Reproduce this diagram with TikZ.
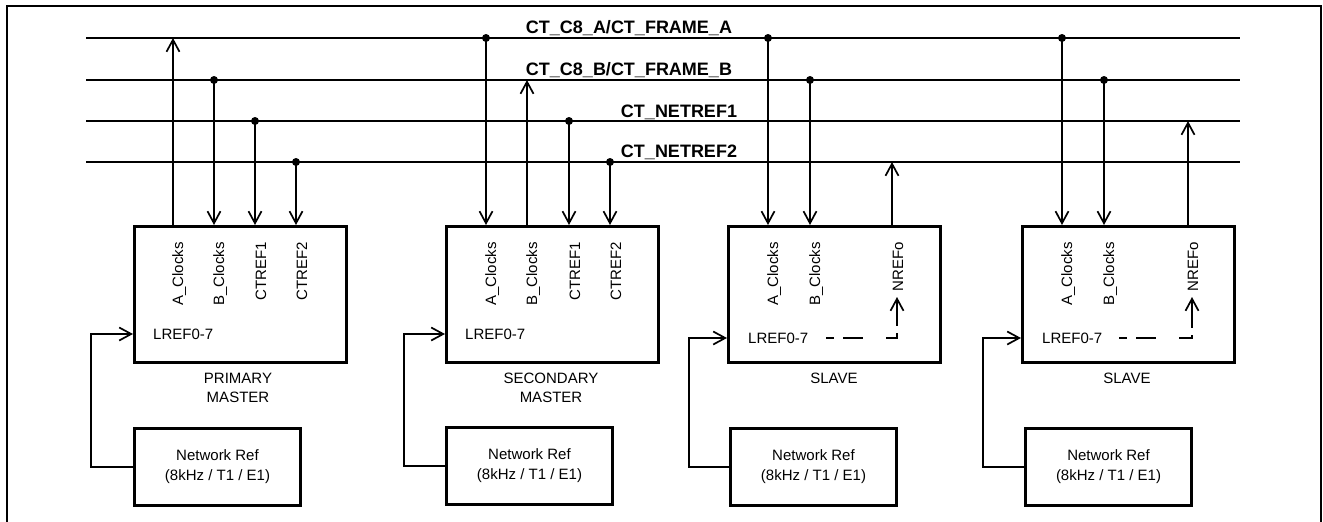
\documentclass[tikz,border=0pt]{standalone}
\usepackage{fontspec}
\setmainfont{Liberation Sans}
\usetikzlibrary{arrows.meta}

\begin{document}
\begin{tikzpicture}[x=1pt,y=-1pt,
    bus/.style={line width=1.7pt},
    sig/.style={line width=1.7pt,-{Straight Barb[length=12pt,width=13pt]}},
    dsh/.style={sig,dash pattern=on 8pt off 9pt on 20pt off 23pt on 16pt off 7pt on 40pt},
    block/.style={draw,line width=3pt,minimum width=212pt,minimum height=136pt,anchor=north west,inner sep=0pt},
    netref/.style={draw,line width=3pt,minimum width=166pt,minimum height=77pt,anchor=north west,align=center,inner sep=0pt,font=\fontsize{15}{20}\selectfont},
    busname/.style={font=\fontsize{18}{20}\selectfont\bfseries,inner sep=0pt,anchor=base},
    pin/.style={font=\fontsize{15}{18}\selectfont,inner sep=0pt,rotate=90,anchor=base east},
    txt/.style={font=\fontsize{15}{19}\selectfont,inner sep=0pt}]
        \useasboundingbox (0,0) rectangle (1323,522);
        \draw[line width=1.3pt] (7,522) -- (7,6) -- (1321,6) -- (1321,522);

        % bus lines
        \coordinate (busA) at (86,38);   \coordinate (busA-e) at (1240,38);
        \coordinate (busB) at (86,80);   \coordinate (busB-e) at (1240,80);
        \coordinate (busN1) at (86,121); \coordinate (busN1-e) at (1240,121);
        \coordinate (busN2) at (86,162); \coordinate (busN2-e) at (1240,162);
        \draw[bus] (busA) -- (busA-e);
        \draw[bus] (busB) -- (busB-e);
        \draw[bus] (busN1) -- (busN1-e);
        \draw[bus] (busN2) -- (busN2-e);
        \node[busname] (lblA) at (629,33) {CT\_C8\_A/CT\_FRAME\_A};
        \node[busname] (lblB) at (629,75) {CT\_C8\_B/CT\_FRAME\_B};
        \node[busname] (lblN1) at (679,117) {CT\_NETREF1};
        \node[busname] (lblN2) at (679,157) {CT\_NETREF2};

        % boards
        \node[block] (pm) at (133,225) {};
        \node[block] (sm) at (445,225) {};
        \node[block] (sv1) at (727,225) {};
        \node[block] (sv2) at (1021,225) {};
        \node[txt,align=center,anchor=north] (pmname) at (238,373) {PRIMARY\\MASTER};
        \node[txt,align=center,anchor=north] (smname) at (551,373) {SECONDARY\\MASTER};
        \node[txt,anchor=north] (sv1name) at (834,373) {SLAVE};
        \node[txt,anchor=north] (sv2name) at (1127,373) {SLAVE};

        % primary master
        \coordinate (pmA) at (173,38);  \coordinate (pmB) at (214,80);
        \coordinate (pmR1) at (255,121); \coordinate (pmR2) at (296,162);
        \draw[sig] (pmA |- pm.north) -- (pmA);
        \draw[sig] (pmB) -- (pmB |- pm.north);
        \draw[sig] (pmR1) -- (pmR1 |- pm.north);
        \draw[sig] (pmR2) -- (pmR2 |- pm.north);
        \fill (pmB) circle (4pt) (pmR1) circle (4pt) (pmR2) circle (4pt);
        \node[pin] (pmAl) at (183,242) {A\_Clocks};
        \node[pin] (pmBl) at (224,242) {B\_Clocks};
        \node[pin] (pmR1l) at (266,242) {CTREF1};
        \node[pin] (pmR2l) at (307,242) {CTREF2};

        % secondary master
        \coordinate (smA) at (486,38);  \coordinate (smB) at (527,80);
        \coordinate (smR1) at (569,121); \coordinate (smR2) at (610,162);
        \draw[sig] (smA) -- (smA |- sm.north);
        \draw[sig] (smB |- sm.north) -- (smB);
        \draw[sig] (smR1) -- (smR1 |- sm.north);
        \draw[sig] (smR2) -- (smR2 |- sm.north);
        \fill (smA) circle (4pt) (smR1) circle (4pt) (smR2) circle (4pt);
        \node[pin] (smAl) at (496,242) {A\_Clocks};
        \node[pin] (smBl) at (537,242) {B\_Clocks};
        \node[pin] (smR1l) at (580,242) {CTREF1};
        \node[pin] (smR2l) at (621,242) {CTREF2};

        % slaves
        \coordinate (sv1A) at (768,38);  \coordinate (sv1B) at (810,80);
        \coordinate (sv1N) at (892,162);
        \draw[sig] (sv1A) -- (sv1A |- sv1.north);
        \draw[sig] (sv1B) -- (sv1B |- sv1.north);
        \draw[sig] (sv1N |- sv1.north) -- (sv1N);
        \fill (sv1A) circle (4pt) (sv1B) circle (4pt);
        \node[pin] (sv1Al) at (778,242) {A\_Clocks};
        \node[pin] (sv1Bl) at (820,242) {B\_Clocks};
        \node[pin] (sv1o) at (903,242) {NREFo};

        \coordinate (sv2A) at (1062,38);  \coordinate (sv2B) at (1104,80);
        \coordinate (sv2N) at (1188,121);
        \draw[sig] (sv2A) -- (sv2A |- sv2.north);
        \draw[sig] (sv2B) -- (sv2B |- sv2.north);
        \draw[sig] (sv2N |- sv2.north) -- (sv2N);
        \fill (sv2A) circle (4pt) (sv2B) circle (4pt);
        \node[pin] (sv2Al) at (1072,242) {A\_Clocks};
        \node[pin] (sv2Bl) at (1114,242) {B\_Clocks};
        \node[pin] (sv2o) at (1198,242) {NREFo};

        % local references
        \node[txt,anchor=west] (lr1) at (153,334) {LREF0-7};
        \node[txt,anchor=west] (lr2) at (465,334) {LREF0-7};
        \node[txt,anchor=west] (lr3) at (748,338) {LREF0-7};
        \node[txt,anchor=west] (lr4) at (1042,338) {LREF0-7};
        \coordinate (sv1in) at (897,297);
        \coordinate (sv2in) at (1192,297);
        \draw[dsh] ([xshift=18pt]lr3.east) -| (sv1in);
        \draw[dsh] ([xshift=17pt]lr4.east) -| (sv2in);

        % network references
        \node[netref] (nr1) at (133,427) {Network Ref\\(8kHz / T1 / E1)};
        \node[netref] (nr2) at (445,426) {Network Ref\\(8kHz / T1 / E1)};
        \node[netref] (nr3) at (729,427) {Network Ref\\(8kHz / T1 / E1)};
        \node[netref] (nr4) at (1024,427) {Network Ref\\(8kHz / T1 / E1)};
        \draw[sig] (nr1.west) -- ++(-42,0) |- (pm.west |- lr1);
        \draw[sig] (nr2.west) -- ++(-41,0) |- (sm.west |- lr2);
        \draw[sig] (nr3.west) -- ++(-40,0) |- (sv1.west |- lr3);
        \draw[sig] (nr4.west) -- ++(-41,0) |- (sv2.west |- lr4);
\end{tikzpicture}
\end{document}
